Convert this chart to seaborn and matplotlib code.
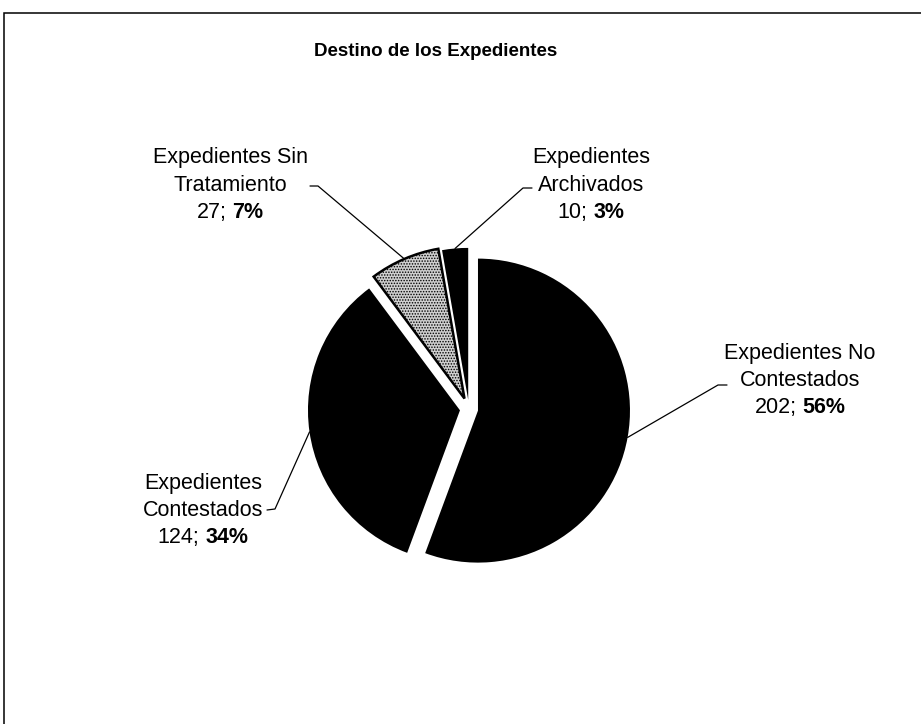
import matplotlib
matplotlib.use("Agg")
import matplotlib.pyplot as plt
import seaborn as sns
import numpy as np

# ---- data ----
categories = ["Expedientes No\nContestados", "Expedientes\nContestados",
              "Expedientes Sin\nTratamiento", "Expedientes\nArchivados"]
counts = [202, 124, 27, 10]
title = "Destino de los Expedientes"

sns.set_theme(style="white")
plt.rcParams["font.family"] = ["Liberation Sans", "DejaVu Sans"]
plt.rcParams["hatch.linewidth"] = 0.7

W, H = 921, 724
fig = plt.figure(figsize=(W / 100, H / 100), dpi=100)
ax = fig.add_axes([0, 0, 1, 1])


def Y(y):
    return H - y


R = 152
colors = ["#000000", "#000000", "#cfcfcf", "#000000"]
wedges, _ = ax.pie(counts, colors=colors, startangle=90, counterclock=False,
                   center=(469, Y(409)), radius=R,
                   explode=[0.06 * R, 0.06 * R, 0.075 * R, 0.06 * R],
                   wedgeprops=dict(linewidth=0))
wedges[2].set_edgecolor("#000000")
wedges[2].set_linewidth(1.8)
wedges[2].set_hatch("......")

ax.set_xlim(0, W)
ax.set_ylim(0, H)
ax.set_aspect("equal")
ax.axis("off")

# frame
ax.plot([4, 4, W + 5], [Y(H + 5), Y(13), Y(13)], color="black", lw=1.1,
        clip_on=False, solid_joinstyle="miter")

# title
ax.text(436, Y(51), title, ha="center", va="center", fontsize=13.5,
        fontweight="bold", color="black")

# labels
total = sum(counts)
label_pos = [(800, 353), (203, 483), (230, 158), (591, 158)]
elbows = [((727, 385), (718, 385)), ((267, 510), (275, 509)),
          ((310, 186), (318, 186)), ((532, 188), (523, 188))]
fs = 15.5
lh = 27.3
fig.canvas.draw()
renderer = fig.canvas.get_renderer()
for i, (cat, n) in enumerate(zip(categories, counts)):
    cx, cy = label_pos[i]
    lines = cat.split("\n")
    for j, ln in enumerate(lines):
        ax.text(cx, Y(cy + j * lh), ln, ha="center", va="center",
                fontsize=fs, color="black")
    y3 = Y(cy + len(lines) * lh)
    pct = round(100 * n / total)
    t1 = ax.text(0, y3, f"{n};", ha="left", va="center", fontsize=fs,
                 color="black")
    t2 = ax.text(0, y3, f"{pct}%", ha="left", va="center", fontsize=fs,
                 fontweight="bold", color="black")
    w1 = t1.get_window_extent(renderer).width
    w2 = t2.get_window_extent(renderer).width
    gap = 6
    tot = w1 + gap + w2
    t1.set_x(cx - tot / 2)
    t2.set_x(cx - tot / 2 + w1 + gap)

    # leader line to wedge mid-angle
    w = wedges[i]
    th = np.deg2rad((w.theta1 + w.theta2) / 2)
    ex = w.center[0] + w.r * np.cos(th)
    ey = w.center[1] + w.r * np.sin(th)
    (sx, sy), (bx, by) = elbows[i]
    ax.plot([sx, bx, ex], [Y(sy), Y(by), ey], color="black", lw=0.9)

fig.savefig("out.png", dpi=100, facecolor="white")
